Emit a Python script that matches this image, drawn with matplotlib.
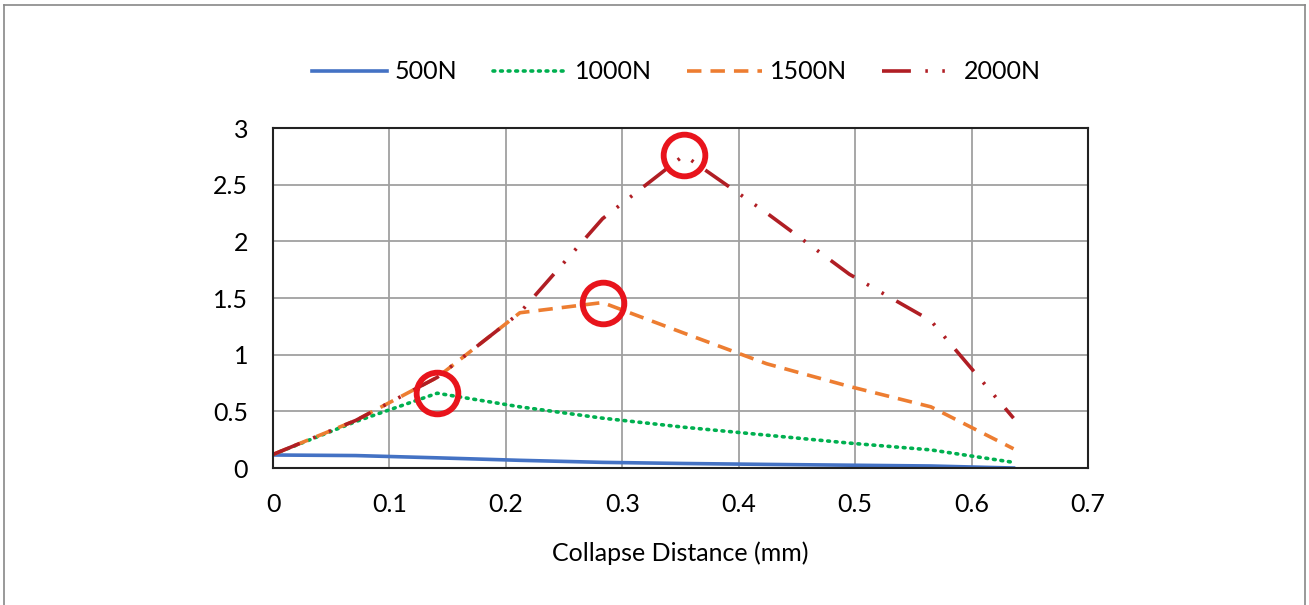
import matplotlib.pyplot as plt
import numpy as np
from matplotlib.lines import Line2D

plt.rcParams['font.family'] = ['Lato', 'DejaVu Sans']

# collapse distance (mm) and the four load cases
distance = [0, 0.071, 0.141, 0.212, 0.283, 0.353, 0.424, 0.495, 0.565, 0.636]
load_500 = [0.115, 0.11, 0.09, 0.068, 0.05, 0.04, 0.032, 0.025, 0.018, 0.0]
load_1000 = [0.12, 0.41, 0.66, 0.54, 0.44, 0.36, 0.29, 0.22, 0.16, 0.05]
load_1500 = [0.12, 0.42, 0.80, 1.37, 1.46, 1.19, 0.92, 0.72, 0.54, 0.17]
load_2000 = [0.12, 0.42, 0.80, 1.37, 2.20, 2.76, 2.25, 1.71, 1.30, 0.44]
labels = ['500N', '1000N', '1500N', '2000N']

fig = plt.figure(figsize=(13.09, 6.05), dpi=100)
ax = fig.add_axes([0.2086, 0.2264, 0.6226, 0.562])

lw = 2.6
ax.plot(distance, load_500, color='#4472C4', lw=lw, ls='-', label=labels[0])
ax.plot(distance, load_1000, color='#00B050', lw=lw, ls=(0, (0.5, 1.6)),
        dash_capstyle='round', label=labels[1])
ax.plot(distance, load_1500, color='#ED7D31', lw=lw, ls=(0, (4, 2.5)), label=labels[2])
ax.plot(distance, load_2000, color='#B01E24', lw=lw, ls=(0, (8, 4, 0.7, 4, 0.7, 4)),
        label=labels[3])

# red circles on the peak of 1000N, 1500N, 2000N
for series in (load_1000, load_1500, load_2000):
    i = int(np.argmax(series))
    ax.plot(distance[i], series[i], marker='o', ms=30, mfc='none', mec='#E8141C',
            mew=4.2, zorder=5)

ax.set_xlim(0, 0.7)
ax.set_ylim(0, 3)
ax.set_xticks(np.arange(0, 0.71, 0.1))
ax.set_xticklabels(['0', '0.1', '0.2', '0.3', '0.4', '0.5', '0.6', '0.7'])
ax.set_yticks(np.arange(0, 3.01, 0.5))
ax.set_yticklabels(['0', '0.5', '1', '1.5', '2', '2.5', '3'])
ax.tick_params(axis='x', length=0, labelsize=18, pad=18)
ax.tick_params(axis='y', length=0, labelsize=18, pad=18)
ax.grid(True, color='#A0A0A0', lw=1.3)
ax.set_axisbelow(True)
for s in ax.spines.values():
    s.set_color('#222222')
    s.set_linewidth(1.5)
ax.set_xlabel('Collapse Distance (mm)', fontsize=18, labelpad=18)

ax.legend(loc='center', bbox_to_anchor=(0.517, 0.881), bbox_transform=fig.transFigure,
          ncol=4, frameon=False, fontsize=18, handlelength=3.0, columnspacing=1.4,
          handletextpad=0.3)

# thin frame around the picture
fig.add_artist(Line2D([0.003, 0.003], [0, 0.992], color='#888888', lw=1.2))
fig.add_artist(Line2D([0.003, 0.997], [0.992, 0.992], color='#888888', lw=1.2))
fig.add_artist(Line2D([0.997, 0.997], [0, 0.992], color='#888888', lw=1.2))

fig.savefig('out.png', dpi=100)
